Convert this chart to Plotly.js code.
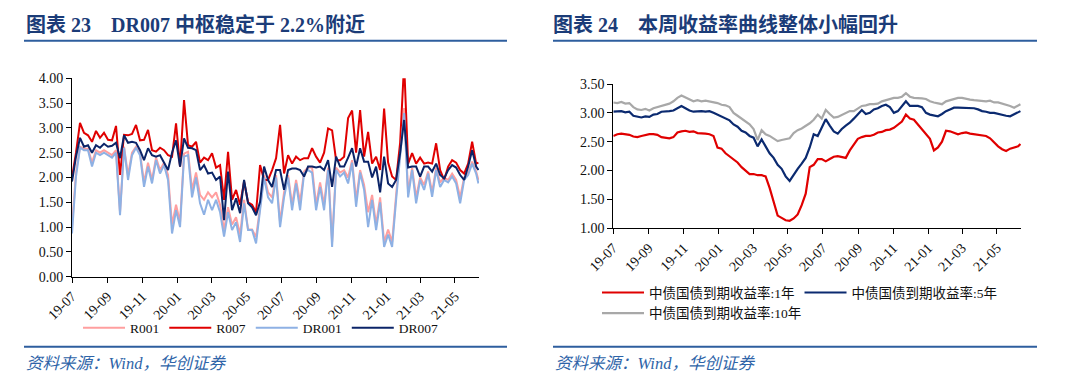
<!DOCTYPE html>
<html>
<head>
<meta charset="utf-8">
<script src="https://cdn.plot.ly/plotly-3.0.1.min.js"></script>
<style>
html,body{margin:0;padding:0;background:#fff;}
#chart{width:1080px;height:388px;}
</style>
</head>
<body>
<div id="chart"></div>
<script>
// Weekly sample dates (shared by both panels)
const dates = [
"2019-07-01","2019-07-08","2019-07-15","2019-07-22","2019-07-29","2019-08-05","2019-08-12","2019-08-19","2019-08-26","2019-09-02",
"2019-09-09","2019-09-16","2019-09-23","2019-09-30","2019-10-07","2019-10-14","2019-10-21","2019-10-28","2019-11-04","2019-11-11",
"2019-11-18","2019-11-25","2019-12-02","2019-12-09","2019-12-16","2019-12-23","2019-12-30","2020-01-06","2020-01-13","2020-01-20",
"2020-01-27","2020-02-03","2020-02-10","2020-02-17","2020-02-24","2020-03-02","2020-03-09","2020-03-16","2020-03-23","2020-03-30",
"2020-04-06","2020-04-13","2020-04-20","2020-04-27","2020-05-04","2020-05-11","2020-05-18","2020-05-25","2020-06-01","2020-06-08",
"2020-06-15","2020-06-22","2020-06-29","2020-07-06","2020-07-13","2020-07-20","2020-07-27","2020-08-03","2020-08-10","2020-08-17",
"2020-08-24","2020-08-31","2020-09-07","2020-09-14","2020-09-21","2020-09-28","2020-10-05","2020-10-12","2020-10-19","2020-10-26",
"2020-11-02","2020-11-09","2020-11-16","2020-11-23","2020-11-30","2020-12-07","2020-12-14","2020-12-21","2020-12-28","2021-01-04",
"2021-01-11","2021-01-18","2021-01-25","2021-02-01","2021-02-08","2021-02-15","2021-02-22","2021-03-01","2021-03-08","2021-03-15",
"2021-03-22","2021-03-29","2021-04-05","2021-04-12","2021-04-19","2021-04-26","2021-05-03","2021-05-10","2021-05-17","2021-05-24",
"2021-05-31","2021-06-07","2021-06-11"
];

// Left panel: money-market rates (%)
const R001 = [
1.0,2.1,2.62,2.58,2.58,2.3,2.55,2.5,2.55,2.5,
2.45,2.55,1.3,2.62,2.05,2.5,2.62,2.5,1.9,2.3,
1.95,2.4,2.15,2.3,2.05,1.05,1.45,1.1,2.48,2.52,
1.75,2.1,1.65,1.55,1.7,1.6,1.7,1.45,0.95,1.4,
1.05,1.2,0.85,1.55,0.95,0.95,0.8,1.4,2.05,1.7,
1.6,2.05,1.1,1.7,2.05,1.45,1.95,1.5,2.12,2.2,
2.2,1.45,1.9,1.45,2.2,0.7,2.2,2.1,2.15,2.0,
2.35,1.55,2.15,1.85,1.3,1.65,1.05,1.6,0.7,0.95,
0.7,1.65,2.55,3.4,1.7,2.2,1.6,2.0,1.85,2.12,
1.7,2.2,1.9,2.0,1.95,2.08,1.95,1.6,2.0,2.1,
2.32,2.12,1.95];
const R007 = [
2.0,2.5,3.1,2.9,2.85,2.72,2.94,2.8,2.9,2.76,
2.75,3.04,2.05,2.86,2.85,2.88,3.06,2.75,2.76,2.96,
2.55,2.52,2.6,2.55,2.45,2.42,3.09,2.22,3.56,2.65,
2.62,2.72,2.3,2.4,2.35,2.49,2.2,2.25,1.55,2.52,
1.55,1.75,1.45,1.92,1.5,1.45,1.3,2.25,1.95,1.95,
2.15,2.39,3.06,2.08,2.45,2.28,2.42,2.35,2.39,2.39,
2.59,2.42,2.3,2.5,2.99,2.95,2.35,2.35,2.42,3.2,
3.35,2.5,3.36,2.42,2.92,2.28,2.42,2.15,3.39,2.3,
2.02,1.95,2.7,4.3,2.28,2.49,2.28,2.4,2.28,2.3,
2.28,2.69,2.15,1.95,2.22,2.35,2.3,2.15,2.08,2.28,
2.72,2.28,2.3];
const DR001 = [
0.87,2.02,2.6,2.55,2.55,2.22,2.5,2.45,2.5,2.45,
2.4,2.5,1.24,2.6,1.95,2.45,2.6,2.45,1.81,2.22,
1.88,2.35,2.08,2.25,1.95,0.87,1.34,1.0,2.42,2.45,
1.6,2.0,1.48,1.25,1.55,1.34,1.55,1.3,0.81,1.3,
0.94,1.1,0.7,1.48,0.94,0.94,0.67,1.34,2.0,1.6,
1.48,2.0,1.0,1.6,2.0,1.34,1.88,1.34,2.08,2.15,
2.1,1.34,1.81,1.34,2.15,0.6,2.15,2.02,2.1,1.88,
2.3,1.41,2.1,1.75,1.0,1.55,0.94,1.5,0.6,0.85,
0.6,1.55,2.5,3.3,1.6,2.15,1.48,1.95,1.75,2.08,
1.61,2.15,1.81,1.95,1.9,2.02,1.88,1.48,1.95,2.05,
2.28,2.08,1.88];
const DR007 = [
1.92,2.42,2.8,2.62,2.65,2.5,2.65,2.6,2.68,2.62,
2.64,2.7,2.39,2.85,2.7,2.72,2.7,2.55,2.35,2.59,
2.45,2.42,2.45,2.3,2.15,2.5,2.75,2.22,2.79,2.6,
2.59,2.55,2.15,2.25,2.08,2.1,1.95,2.02,1.14,2.12,
1.34,1.58,1.28,1.95,1.48,1.4,1.24,1.51,2.22,1.95,
1.81,2.15,2.15,1.75,2.15,2.18,2.18,2.15,2.02,2.22,
2.22,2.2,2.22,2.15,2.35,1.81,2.42,2.22,2.22,2.4,
2.59,2.22,2.59,2.32,2.32,2.0,2.22,1.7,2.42,1.88,
1.81,1.95,2.49,3.16,2.2,2.22,2.22,2.02,2.22,2.22,
2.12,2.28,2.05,1.98,2.15,2.25,2.2,2.05,1.95,2.22,
2.55,2.22,2.15];

// Right panel: CCDC government bond yields (%)
const Y1 = [
2.6,2.63,2.64,2.63,2.62,2.59,2.58,2.6,2.62,2.63,
2.63,2.62,2.58,2.57,2.56,2.58,2.66,2.68,2.69,2.67,
2.68,2.65,2.65,2.64,2.63,2.6,2.4,2.38,2.3,2.25,
2.2,2.14,2.06,2.0,1.94,1.94,1.92,1.92,1.9,1.7,
1.45,1.22,1.18,1.14,1.13,1.17,1.24,1.4,1.6,2.06,
2.1,2.2,2.2,2.16,2.2,2.24,2.25,2.24,2.22,2.35,
2.45,2.55,2.58,2.6,2.6,2.62,2.66,2.67,2.7,2.71,
2.74,2.8,2.85,2.97,2.9,2.88,2.8,2.72,2.63,2.55,
2.35,2.4,2.5,2.69,2.68,2.66,2.63,2.65,2.66,2.64,
2.63,2.63,2.62,2.6,2.56,2.49,2.42,2.37,2.34,2.38,
2.4,2.42,2.46];
const Y5 = [
3.02,3.02,3.03,3.01,3.02,2.95,2.93,2.92,2.94,2.93,
2.97,2.98,3.02,3.02,3.03,3.04,3.08,3.12,3.08,3.04,
3.02,3.03,3.03,3.02,3.03,3.0,2.97,2.94,2.91,2.87,
2.8,2.76,2.69,2.66,2.6,2.57,2.42,2.54,2.42,2.3,
2.22,2.1,2.03,1.9,1.82,1.93,2.03,2.12,2.22,2.4,
2.63,2.6,2.75,2.89,2.78,2.68,2.64,2.72,2.78,2.83,
2.9,2.97,3.05,2.98,3.0,3.06,3.08,3.12,3.14,3.1,
3.0,3.03,3.12,3.2,3.12,3.12,3.12,3.1,3.0,2.97,
2.95,2.94,2.98,3.03,3.06,3.09,3.09,3.09,3.09,3.09,
3.08,3.06,3.03,3.02,3.0,3.0,2.98,2.97,2.95,2.94,
2.97,3.0,3.03];
const Y10 = [
3.18,3.17,3.19,3.16,3.17,3.1,3.06,3.05,3.07,3.04,
3.08,3.1,3.12,3.14,3.16,3.2,3.26,3.3,3.27,3.23,
3.2,3.22,3.2,3.21,3.2,3.18,3.17,3.14,3.13,3.1,
3.0,2.95,2.9,2.86,2.8,2.72,2.53,2.7,2.63,2.6,
2.56,2.51,2.53,2.55,2.56,2.65,2.7,2.73,2.77,2.82,
2.88,2.97,2.9,3.05,2.98,2.92,2.93,2.96,3.0,3.03,
3.03,3.08,3.12,3.13,3.15,3.15,3.16,3.2,3.22,3.24,
3.26,3.26,3.28,3.34,3.28,3.26,3.26,3.25,3.24,3.2,
3.18,3.16,3.15,3.2,3.22,3.25,3.26,3.26,3.24,3.23,
3.22,3.21,3.21,3.2,3.21,3.18,3.18,3.16,3.15,3.12,
3.09,3.12,3.15];

const leftNames = ["R001","R007","DR001","DR007"];
const rightNames = ["中债国债到期收益率:1年","中债国债到期收益率:5年","中债国债到期收益率:10年"];
const titleLeft = "图表 23\u00a0\u00a0\u00a0\u00a0DR007 中枢稳定于 2.2%附近";
const titleRight = "图表 24\u00a0\u00a0\u00a0\u00a0本周收益率曲线整体小幅回升";
const sourceText = "资料来源：Wind，华创证券";

const SERIF = "'Liberation Serif','Times New Roman','Noto Sans CJK SC',serif";
const W = 1080, H = 388;
const px = v => v / W;
const py = v => 1 - v / H;

function line(x, y, name, color, width, xa, ya, legend) {
  return {type:"scatter", mode:"lines", x:x, y:y, name:name, xaxis:xa, yaxis:ya, legend:legend,
          line:{color:color, width:width}, hoverinfo:"skip"};
}

const traces = [
  line(dates, R001, leftNames[0], "#FF9F9F", 2, "x", "y", "legend"),
  line(dates, R007, leftNames[1], "#E00000", 2, "x", "y", "legend"),
  line(dates, DR001, leftNames[2], "#8EB1E4", 2, "x", "y", "legend"),
  line(dates, DR007, leftNames[3], "#0B2468", 2, "x", "y", "legend"),
  line(dates, Y1, rightNames[0], "#E00000", 2.2, "x2", "y2", "legend2"),
  line(dates, Y5, rightNames[1], "#0B2A70", 2.2, "x2", "y2", "legend2"),
  line(dates, Y10, rightNames[2], "#A8A8A8", 2.2, "x2", "y2", "legend3")
];

const tickFont = {family:SERIF, size:14, color:"#111"};
function xaxis(domain, anchor) {
  return {domain:domain, anchor:anchor, type:"date", range:["2019-07-01","2021-06-12"],
    tick0:"2019-07-01", dtick:"M2", tickformat:"%y-%m", tickangle:-45,
    showgrid:false, zeroline:false, showline:true, linecolor:"#000", linewidth:1,
    ticks:"outside", ticklen:5, tickcolor:"#000", tickfont:tickFont, fixedrange:true};
}
function yaxis(domain, anchor, range) {
  return {domain:domain, anchor:anchor, range:range, dtick:0.5, tickformat:".2f",
    showgrid:false, zeroline:false, showline:true, linecolor:"#000", linewidth:1,
    ticks:"outside", ticklen:5, tickcolor:"#000", tickfont:tickFont, fixedrange:true};
}

const legFont = {family:SERIF, size:13.5, color:"#111"};
const layout = {
  width:W, height:H, margin:{l:0,r:0,t:0,b:0},
  paper_bgcolor:"#fff", plot_bgcolor:"#fff",
  showlegend:true,
  xaxis: xaxis([px(72), px(479)], "y"),
  yaxis: yaxis([py(276.7), py(78.3)], "x", [0,4]),
  xaxis2: xaxis([px(613.3), px(1021)], "y2"),
  yaxis2: yaxis([py(228.3), py(84)], "x2", [1,3.5]),
  legend:{orientation:"h", x:px(78), y:py(328), xanchor:"left", yanchor:"middle",
          font:legFont, itemwidth:42, bgcolor:"rgba(0,0,0,0)", tracegroupgap:0},
  legend2:{orientation:"h", x:px(597), y:py(292.7), xanchor:"left", yanchor:"middle",
          font:legFont, itemwidth:42, bgcolor:"rgba(0,0,0,0)"},
  legend3:{orientation:"h", x:px(597), y:py(313.3), xanchor:"left", yanchor:"middle",
          font:legFont, itemwidth:42, bgcolor:"rgba(0,0,0,0)"},
  shapes:[
    {type:"line", xref:"paper", yref:"paper", x0:px(24), x1:px(507), y0:py(40.7), y1:py(40.7), line:{color:"#2E5E9E", width:2}},
    {type:"line", xref:"paper", yref:"paper", x0:px(553), x1:px(1037), y0:py(40.7), y1:py(40.7), line:{color:"#2E5E9E", width:2}},
    {type:"line", xref:"paper", yref:"paper", x0:px(24), x1:px(507), y0:py(346.7), y1:py(346.7), line:{color:"#2E5E9E", width:2}},
    {type:"line", xref:"paper", yref:"paper", x0:px(553), x1:px(1037), y0:py(346.7), y1:py(346.7), line:{color:"#2E5E9E", width:2}}
  ],
  annotations:[
    {xref:"paper", yref:"paper", x:px(24), y:py(25), xanchor:"left", yanchor:"middle", showarrow:false,
     text:"<b>"+titleLeft+"</b>", font:{family:SERIF, size:20, color:"#1B3C78"}},
    {xref:"paper", yref:"paper", x:px(551), y:py(25), xanchor:"left", yanchor:"middle", showarrow:false,
     text:"<b>"+titleRight+"</b>", font:{family:SERIF, size:20, color:"#1B3C78"}},
    {xref:"paper", yref:"paper", x:px(24), y:py(363), xanchor:"left", yanchor:"middle", showarrow:false,
     text:"<i>"+sourceText+"</i>", font:{family:SERIF, size:16.5, color:"#2E64A8"}},
    {xref:"paper", yref:"paper", x:px(553), y:py(363), xanchor:"left", yanchor:"middle", showarrow:false,
     text:"<i>"+sourceText+"</i>", font:{family:SERIF, size:16.5, color:"#2E64A8"}}
  ]
};

Plotly.newPlot("chart", traces, layout, {staticPlot:true, displayModeBar:false});
</script>
</body>
</html>
